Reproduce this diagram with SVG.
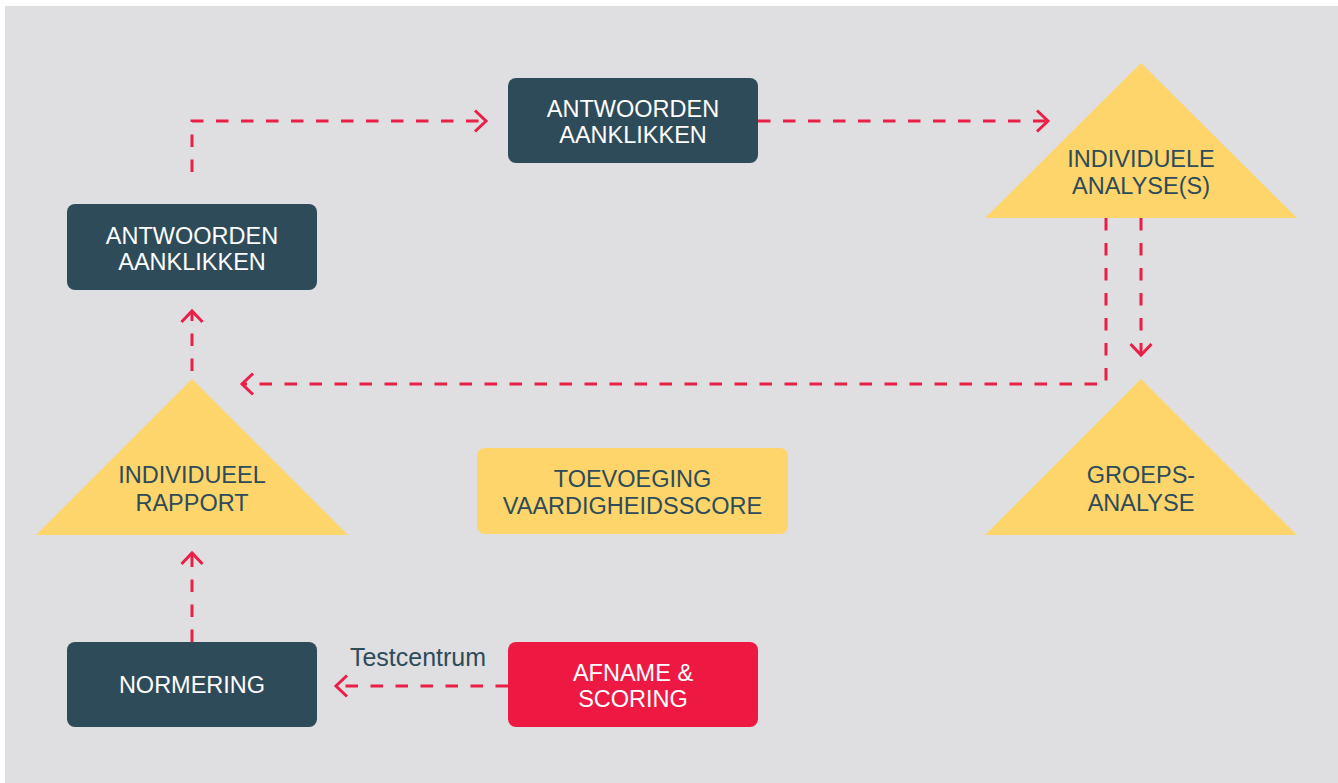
<svg xmlns="http://www.w3.org/2000/svg" width="1338" height="783" viewBox="0 0 1338 783">
<style>
.bg{fill:#dfdfe1}
.dark{fill:#2e4b5a}
.red{fill:#ee1943}
.yellow{fill:#fdd56b}
.lbl{font-family:"Liberation Sans",Arial,sans-serif;font-size:23.5px;text-anchor:middle}
.lw{fill:#ffffff}
.ld{fill:#2e4b5a}
.conn{fill:none;stroke:#e91f47;stroke-width:3;stroke-dasharray:12.5 12.5}
.head{fill:none;stroke:#e91f47;stroke-width:3;stroke-linejoin:miter}
.small{font-family:"Liberation Sans",Arial,sans-serif;font-size:25px;fill:#2e4b5a;text-anchor:middle}
</style>
<defs>
<marker id="arr" markerUnits="userSpaceOnUse" markerWidth="30" markerHeight="30" refX="0" refY="0" viewBox="-15 -15 30 30" orient="auto" overflow="visible">
<path class="head" d="M-11,-10.5 L0,0 L-11,10.5"/>
</marker>
</defs>
<rect class="bg" x="5" y="6" width="1333" height="777"/>

<g id="connectors">
<path class="conn" d="M192,172 V121 H486" marker-end="url(#arr)"/>
<path class="conn" d="M758,121 H1048" marker-end="url(#arr)"/>
<path class="conn" d="M1141,218 V355" marker-end="url(#arr)"/>
<path class="conn" d="M1106,218 V384 H242" marker-end="url(#arr)"/>
<path class="conn" d="M192,371 V311" marker-end="url(#arr)"/>
<path class="conn" d="M192,642 V553" marker-end="url(#arr)"/>
<path class="conn" d="M508,686 H336" marker-end="url(#arr)"/>
<text class="small" x="418" y="666">Testcentrum</text>
</g>

<g id="antwoorden1">
<rect class="dark" x="67" y="204" width="250" height="86" rx="8"/>
<text class="lbl lw" x="192" y="243.5">ANTWOORDEN</text>
<text class="lbl lw" x="192" y="269.5">AANKLIKKEN</text>
</g>

<g id="antwoorden2">
<rect class="dark" x="508" y="78" width="250" height="85" rx="8"/>
<text class="lbl lw" x="633" y="117">ANTWOORDEN</text>
<text class="lbl lw" x="633" y="143">AANKLIKKEN</text>
</g>

<g id="individuele-analyse">
<polygon class="yellow" points="1141,63 1297,218 985,218"/>
<text class="lbl ld" x="1141" y="167">INDIVIDUELE</text>
<text class="lbl ld" x="1141" y="194">ANALYSE(S)</text>
</g>

<g id="groepsanalyse">
<polygon class="yellow" points="1141,379 1297,535 985,535"/>
<text class="lbl ld" x="1141" y="483">GROEPS-</text>
<text class="lbl ld" x="1141" y="511">ANALYSE</text>
</g>

<g id="individueel-rapport">
<polygon class="yellow" points="192,379 348,535 36,535"/>
<text class="lbl ld" x="192" y="483">INDIVIDUEEL</text>
<text class="lbl ld" x="192" y="511">RAPPORT</text>
</g>

<g id="toevoeging">
<rect class="yellow" x="477" y="448" width="311" height="86" rx="8"/>
<text class="lbl ld" x="632.5" y="487">TOEVOEGING</text>
<text class="lbl ld" x="632.5" y="514">VAARDIGHEIDSSCORE</text>
</g>

<g id="normering">
<rect class="dark" x="67" y="642" width="250" height="85" rx="8"/>
<text class="lbl lw" x="192" y="693">NORMERING</text>
</g>

<g id="afname">
<rect class="red" x="508" y="642" width="250" height="85" rx="8"/>
<text class="lbl lw" x="633" y="680.5">AFNAME &amp;</text>
<text class="lbl lw" x="633" y="707">SCORING</text>
</g>
</svg>
